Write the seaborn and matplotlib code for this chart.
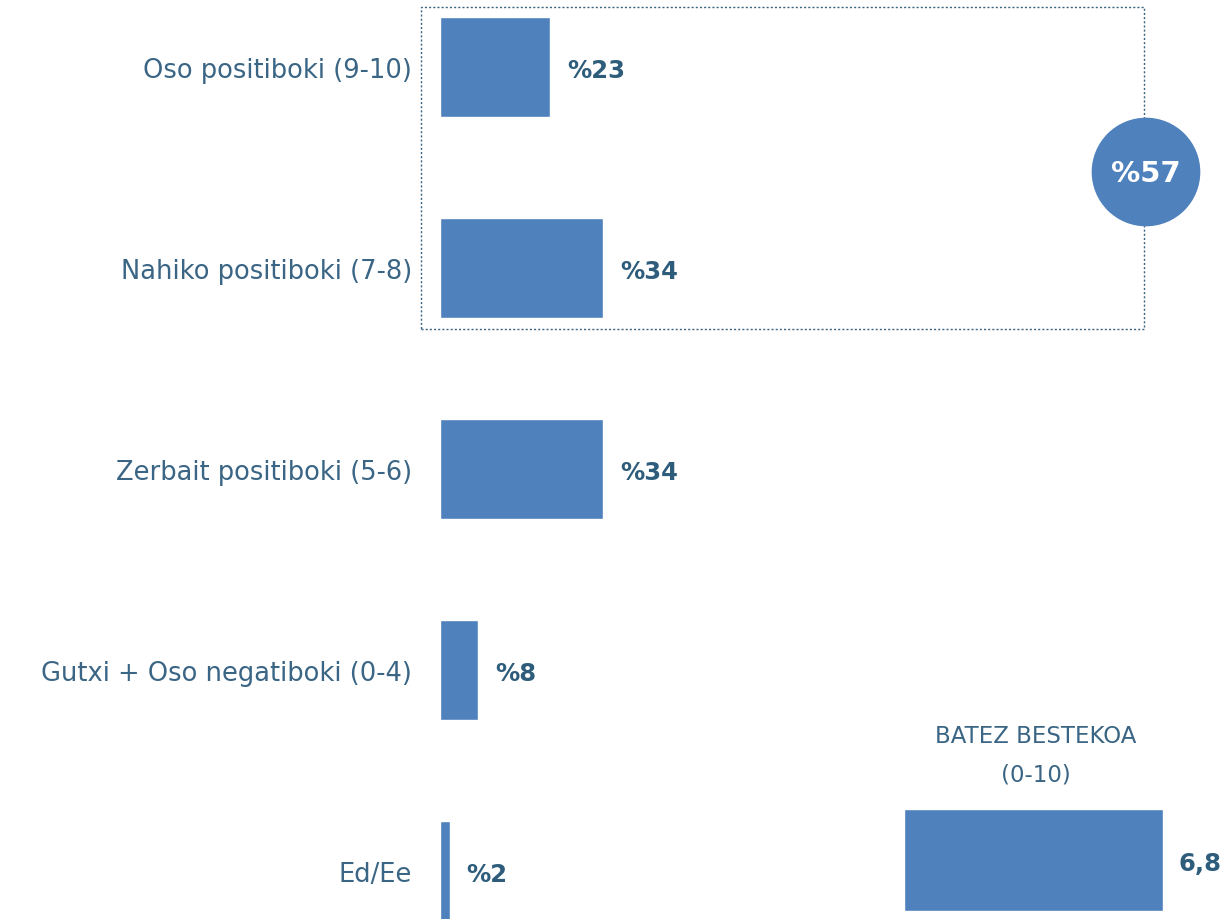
import matplotlib
matplotlib.use("Agg")
import matplotlib.pyplot as plt
import seaborn as sns
import pandas as pd
from matplotlib.patches import Rectangle, Circle

# ---- data ----
categories = ["Oso positiboki (9-10)", "Nahiko positiboki (7-8)",
              "Zerbait positiboki (5-6)", "Gutxi + Oso negatiboki (0-4)", "Ed/Ee"]
values = [23, 34, 34, 8, 2]
positive_total = 57
mean_title = ["BATEZ BESTEKOA", "(0-10)"]
mean_value = 6.8

BAR = "#4f81bd"
TXT = "#3a6584"
VAL = "#2e5d7c"

sns.set_theme(style="white")
plt.rcParams["font.family"] = ["DejaVu Sans"]

W, H = 1223, 920
fig = plt.figure(figsize=(W / 100, H / 100), dpi=100)

def fx(px):
    return px / W

def fy(py):
    return 1 - py / H

# ---- dotted box (behind everything) ----
box = Rectangle((fx(421), fy(330)), fx(1144 - 421), (330 - 8) / H,
                transform=fig.transFigure, fill=False, edgecolor=TXT,
                linestyle=(0, (1.5, 1.5)), linewidth=1.0, zorder=-1)
fig.add_artist(box)

# ---- main bars ----
ax = fig.add_axes([fx(440), 0, fx(W - 440), 1])
ax.patch.set_alpha(0)
df = pd.DataFrame({"cat": categories, "val": values})
sns.barplot(data=df, x="val", y="cat", orient="h", color=BAR, saturation=1,
            width=0.5, ax=ax)
ax.set_xlim(0, (W - 440) / 4.8)
ax.set_ylim(4.239, -0.338)
for s in ax.spines.values():
    s.set_visible(False)
ax.set_xlabel("")
ax.set_ylabel("")
ax.set_xticks([])
ax.tick_params(axis="y", length=0, pad=20, labelsize=18.5, labelcolor=TXT)
for i, v in enumerate(values):
    ax.annotate(f"%{v}", xy=(v, i), xytext=(12, -2), textcoords="offset points",
                va="center", ha="left", fontsize=17.5, fontweight="bold", color=VAL)

# ---- circle with total ----
cax = fig.add_axes([fx(1146 - 56), fy(173 + 56), fx(112), 112 / H])
cax.set_zorder(5)
cax.set_xlim(-1, 1)
cax.set_ylim(-1, 1)
cax.set_aspect("equal")
cax.axis("off")
cax.add_patch(Circle((0, 0), 0.97, color=BAR, ec="none"))
cax.text(0, -0.02, f"%{positive_total}", ha="center", va="center", color="white",
         fontsize=21, fontweight="bold")

# ---- mean bar ----
mx = fig.add_axes([fx(904), (H - 912) / H, fx(W - 904), 102 / H])
mdf = pd.DataFrame({"k": ["mean"], "v": [mean_value]})
sns.barplot(data=mdf, x="v", y="k", orient="h", color=BAR, saturation=1,
            width=1.0, ax=mx)
mx.set_xlim(0, (W - 904) / 38.09)
mx.set_ylim(0.5, -0.5)
mx.axis("off")
mx.annotate(f"{mean_value:.1f}".replace(".", ","), xy=(mean_value, 0),
            xytext=(11, -2), textcoords="offset points", va="center", ha="left",
            fontsize=17.5, fontweight="bold", color=VAL)
fig.text(fx(1036), fy(737), mean_title[0], ha="center", va="center",
         fontsize=16.5, color=TXT)
fig.text(fx(1036), fy(775), mean_title[1], ha="center", va="center",
         fontsize=16.5, color=TXT)

fig.savefig("out.png", dpi=100)
